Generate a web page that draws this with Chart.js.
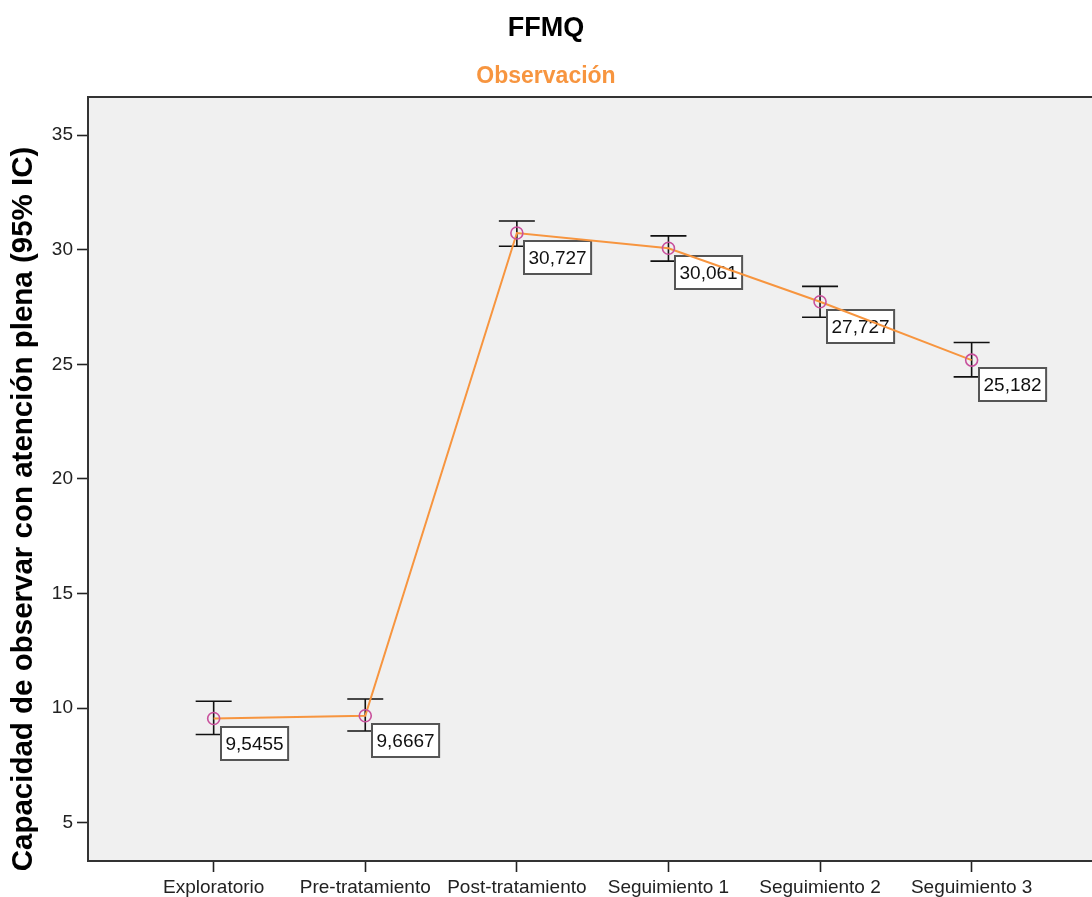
<!DOCTYPE html>
<html>
<head>
<meta charset="utf-8">
<script src="https://cdn.jsdelivr.net/npm/chart.js@4"></script>
<style>
  html, body { margin: 0; padding: 0; background: #fff; }
  #wrap { width: 1092px; height: 897px; }
</style>
</head>
<body>
<div id="wrap"><canvas id="ffmqChart"></canvas></div>
<script>
const categories = ['Exploratorio', 'Pre-tratamiento', 'Post-tratamiento', 'Seguimiento 1', 'Seguimiento 2', 'Seguimiento 3'];
const means = [9.5455, 9.6667, 30.727, 30.061, 27.727, 25.182];
const ciLower = [8.85, 9.00, 30.15, 29.50, 27.05, 24.45];
const ciUpper = [10.30, 10.40, 31.25, 30.60, 28.40, 25.95];
const yTicks = [5, 10, 15, 20, 25, 30, 35];

const FONT = "'Liberation Sans', Arial, sans-serif";

// grey plot background + top frame line
const plotFrame = {
    id: 'plotFrame',
    beforeDraw(chart) {
        const { ctx, chartArea: a } = chart;
        ctx.save();
        ctx.fillStyle = '#f0f0f0';
        ctx.fillRect(a.left, a.top, a.right - a.left, a.bottom - a.top);
        ctx.strokeStyle = '#333';
        ctx.lineWidth = 2;
        ctx.beginPath();
        ctx.moveTo(a.left, a.top);
        ctx.lineTo(a.right, a.top);
        ctx.stroke();
        ctx.restore();
    }
};

// 95% CI bars and value boxes, drawn beneath the line
const ciAndLabels = {
    id: 'ciAndLabels',
    beforeDatasetsDraw(chart) {
        const { ctx, scales: { x, y } } = chart;
        ctx.save();
        ctx.strokeStyle = '#111';
        ctx.lineWidth = 1.6;
        means.forEach((m, i) => {
            const px = x.getPixelForValue(i);
            const yl = y.getPixelForValue(ciLower[i]);
            const yu = y.getPixelForValue(ciUpper[i]);
            ctx.beginPath();
            ctx.moveTo(px, yl); ctx.lineTo(px, yu);
            ctx.moveTo(px - 18, yu); ctx.lineTo(px + 18, yu);
            ctx.moveTo(px - 18, yl); ctx.lineTo(px + 18, yl);
            ctx.stroke();
        });

        ctx.font = '19px ' + FONT;
        ctx.textBaseline = 'middle';
        ctx.textAlign = 'left';
        means.forEach((m, i) => {
            const txt = String(m).replace('.', ',');
            const px = x.getPixelForValue(i);
            const py = y.getPixelForValue(m);
            const w = ctx.measureText(txt).width + 9;
            const h = 33;
            const bx = Math.round(px + 7), by = Math.round(py + 8);
            ctx.fillStyle = '#fff';
            ctx.fillRect(bx, by, w, h);
            ctx.strokeStyle = '#555';
            ctx.lineWidth = 2;
            ctx.strokeRect(bx, by, w, h);
            ctx.fillStyle = '#111';
            ctx.fillText(txt, bx + 4.5, by + h / 2 + 1);
        });
        ctx.restore();
    },
    afterDraw(chart) {
        // y axis title, centred a bit lower than the plot area
        const { ctx } = chart;
        ctx.save();
        ctx.translate(24, 509);
        ctx.rotate(-Math.PI / 2);
        ctx.font = 'bold 29.5px ' + FONT;
        ctx.fillStyle = '#000';
        ctx.textAlign = 'center';
        ctx.textBaseline = 'middle';
        ctx.fillText('Capacidad de observar con atención plena (95% IC)', 0, 0);
        ctx.restore();
    }
};

new Chart(document.getElementById('ffmqChart'), {
    type: 'line',
    data: {
        datasets: [{
            data: means.map((m, i) => ({ x: i, y: m })),
            borderColor: '#f7953f',
            borderWidth: 2,
            tension: 0,
            pointStyle: 'circle',
            pointRadius: 6,
            pointBorderWidth: 1.6,
            pointBorderColor: '#c8509c',
            pointBackgroundColor: 'rgba(0,0,0,0)'
        }]
    },
    options: {
        responsive: true,
        maintainAspectRatio: false,
        animation: false,
        layout: { padding: 0, autoPadding: false },
        plugins: {
            legend: { display: false },
            tooltip: { enabled: false },
            title: {
                display: true,
                text: 'FFMQ',
                color: '#000',
                font: { family: FONT, size: 27, weight: 'bold' },
                padding: { top: 12, bottom: 18.5 }
            },
            subtitle: {
                display: true,
                text: 'Observación',
                color: '#f7953f',
                font: { family: FONT, size: 23, weight: 'bold' },
                padding: { top: 0, bottom: 6.5 }
            }
        },
        scales: {
            x: {
                type: 'linear',
                min: -0.829,
                max: 5.794,
                afterBuildTicks: s => { s.ticks = categories.map((c, i) => ({ value: i })); },
                afterFit: s => {
                    s.height = 36;
                    s.paddingLeft = 0;
                    s.paddingRight = 0;
                },
                ticks: {
                    autoSkip: false,
                    maxRotation: 0,
                    padding: 4,
                    color: '#222',
                    font: { family: FONT, size: 19 },
                    callback: v => categories[v]
                },
                grid: { drawOnChartArea: false, tickLength: 11, tickColor: '#222', tickWidth: 1.6 },
                border: { color: '#333', width: 2 }
            },
            y: {
                min: 3.33,
                max: 36.66,
                afterBuildTicks: s => { s.ticks = yTicks.map(v => ({ value: v })); },
                afterFit: s => {
                    s.width = 88;
                    s.paddingTop = 0;
                    s.paddingBottom = 0;
                },
                ticks: {
                    padding: 4,
                    color: '#222',
                    font: { family: FONT, size: 19 }
                },
                grid: { drawOnChartArea: false, tickLength: 11, tickColor: '#222', tickWidth: 1.6 },
                border: { color: '#333', width: 2 }
            }
        }
    },
    plugins: [plotFrame, ciAndLabels]
});
</script>
</body>
</html>
